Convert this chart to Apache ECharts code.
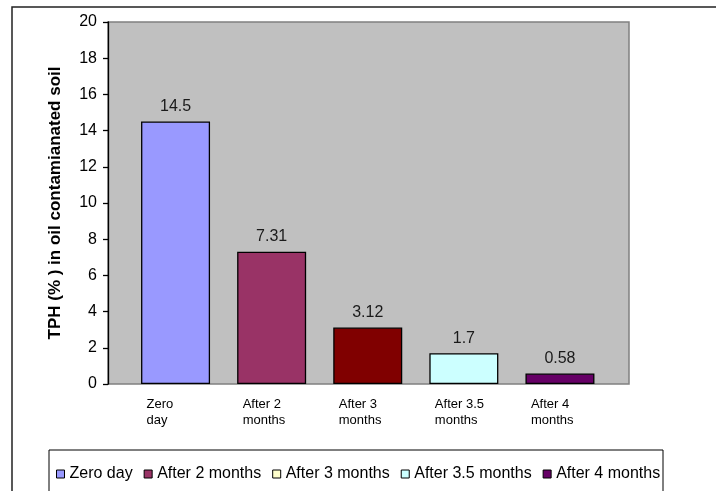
<!DOCTYPE html>
<html>
<head>
<meta charset="utf-8">
<script src="https://cdn.jsdelivr.net/npm/echarts@6/dist/echarts.min.js"></script>
<style>html,body{margin:0;padding:0;background:#fff}#c{width:716px;height:491px}</style>
</head>
<body>
<div id="c"></div>
<script>
var categories = ['Zero\nday', 'After 2\nmonths', 'After 3\nmonths', 'After 3.5\nmonths', 'After 4\nmonths'];
var seriesNames = ['Zero day', 'After 2 months', 'After 3 months', 'After 3.5 months', 'After 4 months'];
var values = [14.5, 7.31, 3.12, 1.7, 0.58];
var barColors = ['#9999FF', '#993366', '#800000', '#CCFFFF', '#660066'];
var legendColors = ['#9999FF', '#993366', '#FFFFCC', '#CCFFFF', '#660066'];
var yMin = 0, yMax = 20, yStep = 2;
var yTitle = 'TPH (% ) in oil contamianated soil';

var FONT = "'Liberation Sans', Arial, sans-serif";
var chart = echarts.init(document.getElementById('c'), null, {renderer: 'canvas'});

var series = seriesNames.map(function (name, i) {
  var data = categories.map(function (c, j) {
    return j === i ? {value: values[j], itemStyle: {color: barColors[j]}} : '-';
  });
  return {
    name: name,
    type: 'bar',
    xAxisIndex: 1,
    yAxisIndex: 1,
    barWidth: 69,
    barGap: '-100%',
    itemStyle: {color: legendColors[i], borderColor: '#000', borderWidth: 1.3},
    label: {
      show: true, position: 'top', distance: 7,
      color: '#1a1a1a', fontSize: 16, fontFamily: FONT
    },
    emphasis: {disabled: true},
    data: data
  };
});

chart.setOption({
  animation: false,
  backgroundColor: '#fff',
  graphic: [
    {type: 'rect', shape: {x: 12, y: 7, width: 760, height: 600},
     style: {fill: 'none', stroke: '#222', lineWidth: 1.5}, silent: true},
    {type: 'rect', shape: {x: 49, y: 450, width: 614, height: 100},
     style: {fill: 'none', stroke: '#000', lineWidth: 1}, silent: true}
  ],
  legend: {
    left: 56, top: 466, padding: 0,
    itemWidth: 8, itemHeight: 8, itemGap: 11,
    icon: 'rect',
    itemStyle: {borderColor: '#000', borderWidth: 1},
    textStyle: {fontSize: 16, color: '#000', fontFamily: FONT},
    data: seriesNames
  },
  grid: [
    {left: 108, right: 87, top: 22, bottom: 107, show: true,
     backgroundColor: '#C0C0C0', borderColor: '#808080', borderWidth: 1.5},
    {left: 127.5, right: 108, top: 22, bottom: 107}
  ],
  xAxis: [
    {type: 'category', gridIndex: 0, data: categories, show: false},
    {type: 'category', gridIndex: 1, data: categories,
     axisLine: {show: false}, axisTick: {show: false},
     axisLabel: {
       margin: 12, color: '#000', fontSize: 13, fontFamily: FONT, lineHeight: 16,
       formatter: function (v) {
         return v.split('\n').map(function (s) { return '{a|' + s + '}'; }).join('\n');
       },
       rich: {a: {width: 58, align: 'left', fontSize: 13, lineHeight: 16, color: '#000', fontFamily: FONT}}
     }}
  ],
  yAxis: [
    {type: 'value', gridIndex: 0, min: yMin, max: yMax, interval: yStep,
     name: yTitle, nameLocation: 'middle', nameGap: 44,
     nameTextStyle: {fontSize: 17, fontWeight: 'bold', color: '#000', fontFamily: FONT},
     axisLine: {show: true, lineStyle: {color: '#000', width: 1.3}},
     axisTick: {show: true, length: 5, lineStyle: {color: '#000', width: 1.3}},
     axisLabel: {margin: 11, fontSize: 16, color: '#000', fontFamily: FONT},
     splitLine: {show: false}},
    {type: 'value', gridIndex: 1, min: yMin, max: yMax, interval: yStep, show: false,
     splitLine: {show: false}}
  ],
  series: series
});
</script>
</body>
</html>
